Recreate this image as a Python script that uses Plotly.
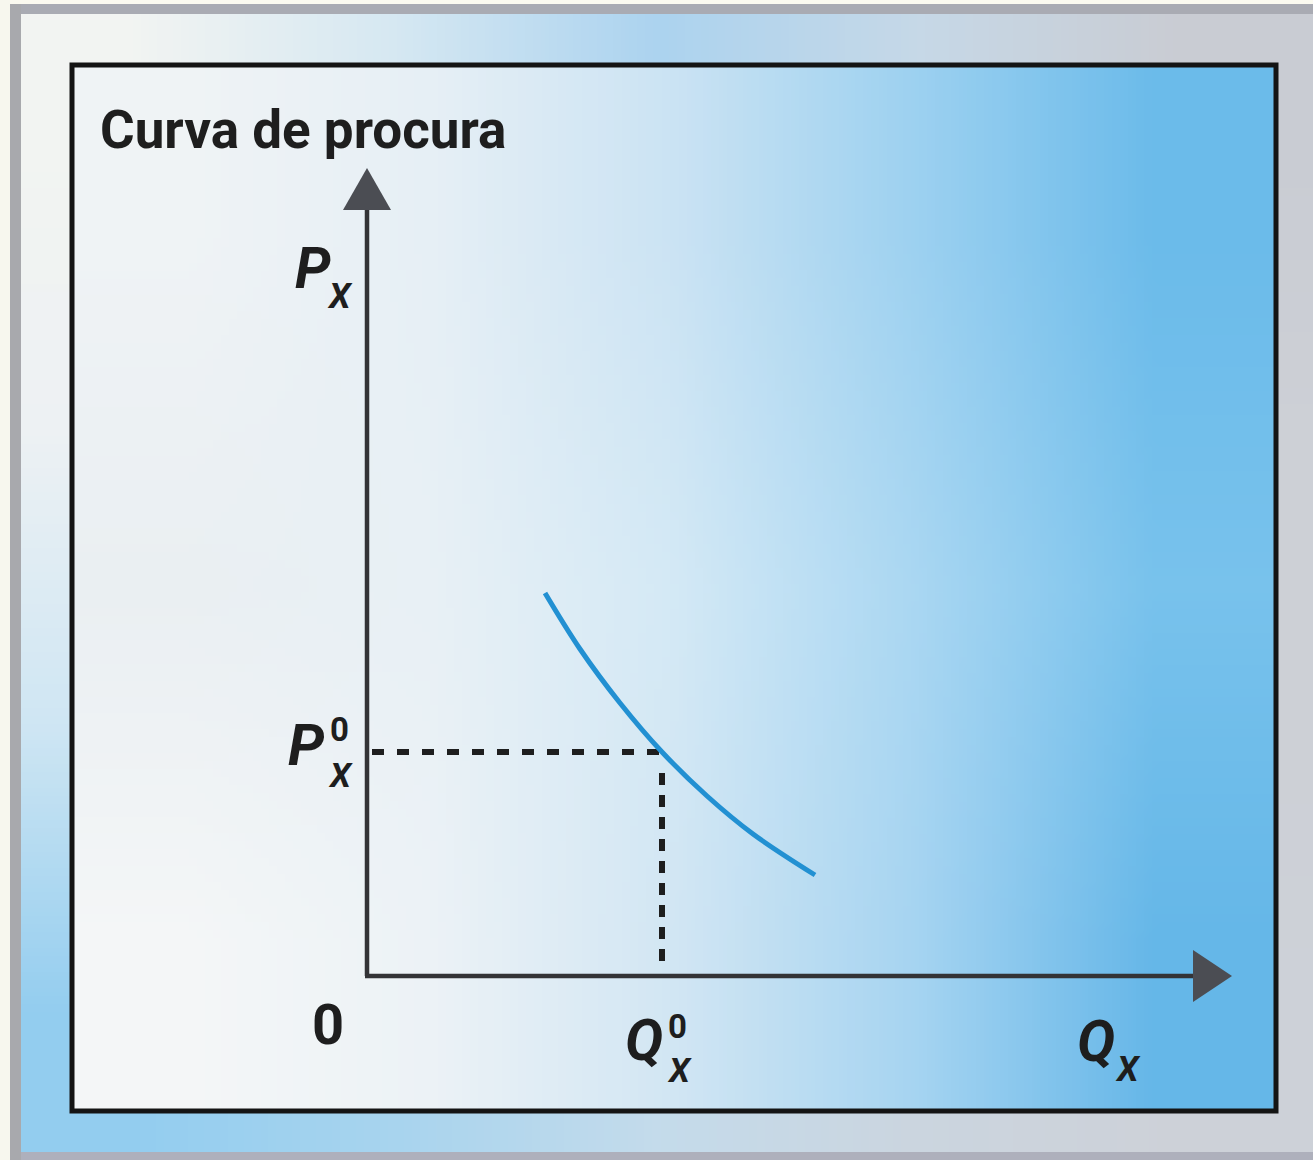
import base64
import struct
import zlib

import numpy as np
import plotly.graph_objects as go

# ---------------- data (economic units) ----------------
title_text = "Curva de procura"
q_curve = [1.78, 2.13, 2.53, 2.95, 3.40, 3.86, 4.48]
p_curve = [3.83, 3.27, 2.73, 2.24, 1.80, 1.42, 1.01]
q0 = 2.95
p0 = 2.24
q_axis_max = 8.65
p_axis_max = 8.08
origin_label = "0"
price_symbol = "P"
quantity_symbol = "Q"
good_subscript = "X"
base_superscript = "0"

# ---------------- page geometry / styles ----------------
W, H = 1313, 1160
PX_PER_UNIT = 100.0
ORIGIN_PX = (367, 976)

FONT = "Roboto, Liberation Sans, Arial, sans-serif"
INK = "#1e1e1e"
AXIS_COL = "#333336"
HEAD_COL = "#4b4d53"
CURVE_COL = "#2290d2"


def hex2rgb(h):
    h = h.lstrip("#")
    return [int(h[i:i + 2], 16) for i in (0, 2, 4)]


def smooth_field(rows, out_w, out_h):
    """Bilinear blend of a small colour grid (cell-centred, clamped) to out_w x out_h."""
    ctrl = np.array([[hex2rgb(c) for c in r] for r in rows], dtype=float)
    ny, nx = ctrl.shape[:2]
    gx = np.clip((np.arange(out_w) + 0.5) / out_w * nx - 0.5, 0, nx - 1)
    gy = np.clip((np.arange(out_h) + 0.5) / out_h * ny - 0.5, 0, ny - 1)
    x0 = np.floor(gx).astype(int); x1 = np.minimum(x0 + 1, nx - 1); tx = (gx - x0)[None, :, None]
    y0 = np.floor(gy).astype(int); y1 = np.minimum(y0 + 1, ny - 1); ty = (gy - y0)[:, None, None]
    top = ctrl[y0][:, x0] * (1 - tx) + ctrl[y0][:, x1] * tx
    bot = ctrl[y1][:, x0] * (1 - tx) + ctrl[y1][:, x1] * tx
    return np.clip(np.rint(top * (1 - ty) + bot * ty), 0, 255).astype(np.uint8)


def png_uri(arr):
    h, w = arr.shape[:2]
    raw = b"".join(b"\x00" + arr[i].tobytes() for i in range(h))

    def chunk(tag, data):
        return struct.pack(">I", len(data)) + tag + data + struct.pack(">I", zlib.crc32(tag + data) & 0xFFFFFFFF)

    png = (b"\x89PNG\r\n\x1a\n" + chunk(b"IHDR", struct.pack(">IIBBBBB", w, h, 8, 2, 0, 0, 0))
           + chunk(b"IDAT", zlib.compress(raw, 9)) + chunk(b"IEND", b""))
    return "data:image/png;base64," + base64.b64encode(png).decode()


outer_rows = [
    ["#f2f4f2", "#d6e8f2", "#acd3ef", "#c6d8e7", "#c9ccd3"],
    ["#edf1f3", "#dfebf2", "#c4dff0", "#c8d6e2", "#cdd0d6"],
    ["#cfe6f3", "#cfe3f1", "#c6dcec", "#cad5df", "#cdd0d6"],
    ["#93cdef", "#a8d4ee", "#c4dbeb", "#cbd5df", "#cdd1d8"],
]
inner_rows = [
    ["#eff3f5", "#e6eff5", "#cbe3f3", "#9dd1f0", "#6bbbea"],
    ["#eaeff2", "#e8f0f5", "#d4e9f5", "#aad7f2", "#78c2ec"],
    ["#f4f6f7", "#ecf2f6", "#d2e6f3", "#a6d4f1", "#65b7e8"],
]

fig = go.Figure()

# background (base pixel axes x/y)
SC = 8
ow, oh = W // SC, H // SC
fig.add_trace(go.Image(source=png_uri(smooth_field(outer_rows, ow, oh)),
                       x0=W / ow / 2, dx=W / ow, y0=H / oh / 2, dy=H / oh,
                       zsmooth="fast", hoverinfo="skip", xaxis="x", yaxis="y"))
fx0, fx1, fy0, fy1 = 72, 1276, 65, 1111
fw, fh = fx1 - fx0, fy1 - fy0
iw, ih = fw // SC, fh // SC
fig.add_trace(go.Image(source=png_uri(smooth_field(inner_rows, iw, ih)),
                       x0=fx0 + fw / iw / 2, dx=fw / iw, y0=fy0 + fh / ih / 2, dy=fh / ih,
                       zsmooth="fast", hoverinfo="skip", xaxis="x", yaxis="y"))

# ---------------- diagram (data axes x2/y2) ----------------
head_len_y, head_half_y = 0.42, 0.24
head_len_x, head_half_x = 0.39, 0.26

fig.add_trace(go.Scatter(x=[0, 0], y=[0, p_axis_max - head_len_y + 0.02], mode="lines",
                         line=dict(color=AXIS_COL, width=4.5), xaxis="x2", yaxis="y2", hoverinfo="skip"))
fig.add_trace(go.Scatter(x=[-0.02, q_axis_max - head_len_x + 0.02], y=[0, 0], mode="lines",
                         line=dict(color=AXIS_COL, width=4.5), xaxis="x2", yaxis="y2", hoverinfo="skip"))
fig.add_trace(go.Scatter(x=[0, -head_half_y, head_half_y, 0],
                         y=[p_axis_max, p_axis_max - head_len_y, p_axis_max - head_len_y, p_axis_max],
                         mode="lines", fill="toself", fillcolor=HEAD_COL, line=dict(width=0, color=HEAD_COL),
                         xaxis="x2", yaxis="y2", hoverinfo="skip"))
fig.add_trace(go.Scatter(x=[q_axis_max, q_axis_max - head_len_x, q_axis_max - head_len_x, q_axis_max],
                         y=[0, head_half_x, -head_half_x, 0],
                         mode="lines", fill="toself", fillcolor=HEAD_COL, line=dict(width=0, color=HEAD_COL),
                         xaxis="x2", yaxis="y2", hoverinfo="skip"))
fig.add_trace(go.Scatter(x=[0.05, q0], y=[p0, p0], mode="lines",
                         line=dict(color=INK, width=6, dash="12px,13px"), xaxis="x2", yaxis="y2", hoverinfo="skip"))
fig.add_trace(go.Scatter(x=[q0, q0], y=[p0 - 0.21, 0.05], mode="lines",
                         line=dict(color=INK, width=6, dash="12px,10px"), xaxis="x2", yaxis="y2", hoverinfo="skip"))
fig.add_trace(go.Scatter(x=q_curve, y=p_curve, mode="lines",
                         line=dict(color=CURVE_COL, width=5, shape="spline", smoothing=1.0),
                         xaxis="x2", yaxis="y2", hoverinfo="skip"))

# ---------------- frame and scan edges ----------------
shapes = [
    dict(type="rect", xref="x", yref="y", x0=fx0, x1=fx1, y0=fy0, y1=fy1,
         line=dict(color="#141414", width=5), fillcolor="rgba(0,0,0,0)", layer="above"),
    dict(type="rect", xref="x", yref="y", x0=0, x1=W, y0=0, y1=4, line=dict(width=0), fillcolor="#fbfaf0"),
    dict(type="rect", xref="x", yref="y", x0=0, x1=10, y0=0, y1=H, line=dict(width=0), fillcolor="#f7f7ee"),
    dict(type="rect", xref="x", yref="y", x0=10, x1=W, y0=4, y1=14, line=dict(width=0), fillcolor="#a9abb3"),
    dict(type="rect", xref="x", yref="y", x0=10, x1=21, y0=4, y1=H, line=dict(width=0), fillcolor="#a8a9ad"),
    dict(type="rect", xref="x", yref="y", x0=21, x1=W, y0=1152, y1=H, line=dict(width=0), fillcolor="#aeb0bc"),
]


def ann(text, x, y, size, italic=True, anchor="center"):
    return dict(text=text, x=x, y=y, xref="x", yref="y", showarrow=False,
                xanchor=anchor, yanchor="middle", borderpad=0,
                font=dict(family=FONT, size=size, color=INK, weight="bold",
                          style="italic" if italic else "normal"))


annotations = [
    ann(title_text, 99, 130, 53, italic=False, anchor="left"),
    # P_X on the vertical axis
    ann(price_symbol, 313, 268, 57),
    ann(good_subscript, 340, 296, 35),
    # P_X^0
    ann(price_symbol, 306, 745, 58),
    ann(base_superscript, 339, 729, 33, italic=False),
    ann(good_subscript, 340, 775, 34),
    # origin
    ann(origin_label, 328, 1025, 56, italic=False),
    # Q_X^0
    ann(quantity_symbol, 644, 1040, 57),
    ann(base_superscript, 677, 1026, 33, italic=False),
    ann(good_subscript, 679, 1070, 34),
    # Q_X on the horizontal axis
    ann(quantity_symbol, 1096, 1041, 57),
    ann(good_subscript, 1128, 1069, 35),
]

ox, oy = ORIGIN_PX
hidden = dict(visible=False, showgrid=False, zeroline=False, fixedrange=True)
fig.update_layout(
    width=W, height=H, margin=dict(l=0, r=0, t=0, b=0),
    paper_bgcolor="#ffffff", plot_bgcolor="#ffffff",
    showlegend=False, hovermode=False,
    xaxis=dict(range=[0, W], domain=[0, 1], **hidden),
    yaxis=dict(range=[H, 0], domain=[0, 1], scaleanchor=False, **hidden),
    xaxis2=dict(range=[-ox / PX_PER_UNIT, (W - ox) / PX_PER_UNIT], overlaying="x", anchor="y2", **hidden),
    yaxis2=dict(range=[-(H - oy) / PX_PER_UNIT, oy / PX_PER_UNIT], overlaying="y", anchor="x2", **hidden),
    shapes=shapes, annotations=annotations,
)

fig.write_html("out.html", config={"displayModeBar": False},
               post_script="document.body.style.margin='0';document.body.style.overflow='hidden';")
